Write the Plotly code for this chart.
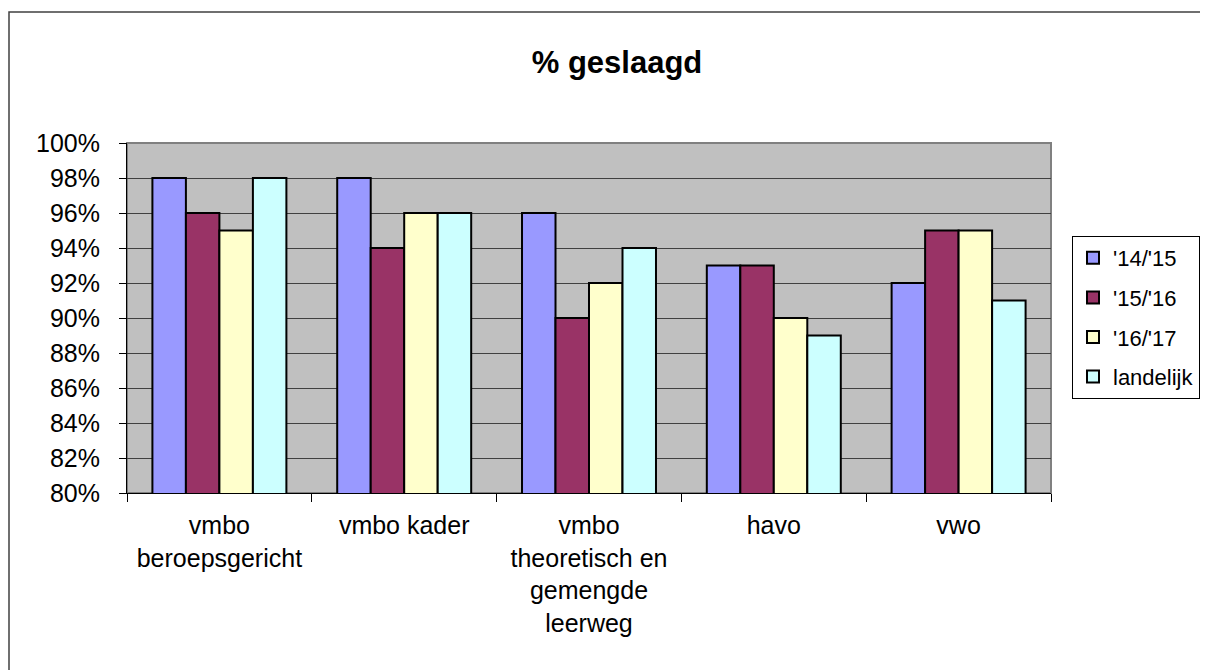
import plotly.graph_objects as go

categories = ["vmbo<br>beroepsgericht", "vmbo kader", "vmbo<br>theoretisch en<br>gemengde<br>leerweg", "havo", "vwo"]
series_names = ["'14/'15", "'15/'16", "'16/'17", "landelijk"]
v_1415 = [0.98, 0.98, 0.96, 0.93, 0.92]
v_1516 = [0.96, 0.94, 0.90, 0.93, 0.95]
v_1617 = [0.95, 0.96, 0.92, 0.90, 0.95]
v_land = [0.98, 0.96, 0.94, 0.89, 0.91]
colors = ["#9999FF", "#993366", "#FFFFCC", "#CCFFFF"]

FONT = "Arial, Liberation Sans, sans-serif"

fig = go.Figure()
for i, (name, vals) in enumerate(zip(series_names, [v_1415, v_1516, v_1617, v_land])):
    fig.add_trace(go.Bar(
        x=categories, y=vals, name=name, legendgroup=name,
        marker=dict(color=colors[i], line=dict(color="black", width=2)),
    ))

# page has an 8px body margin, so figure pixel = page pixel - 8
OFF = 8
W, H = 1200, 662
L, R, T, B = 127 - OFF, 157, 143 - OFF, 177
pw, ph = W - L - R, H - T - B

def px_x(p):
    return (p - OFF - L) / pw

def px_y(p):
    return (H - B - (p - OFF)) / ph

fig.update_layout(
    width=W, height=H,
    margin=dict(l=L, r=R, t=T, b=B, autoexpand=False),
    paper_bgcolor="white",
    plot_bgcolor="#C0C0C0",
    barmode="group",
    bargap=0.275,
    bargroupgap=0,
    font=dict(family=FONT, size=25, color="black"),
    title=dict(text="<b>% geslaagd</b>", x=(617 - OFF) / W, xanchor="center",
               y=1 - (62 - OFF) / H, yanchor="middle", font=dict(size=31, family=FONT)),
    legend=dict(x=px_x(1072), y=px_y(236), xanchor="left", yanchor="top",
                bordercolor="black", borderwidth=1, bgcolor="white",
                font=dict(size=22, family=FONT), tracegroupgap=8,
                traceorder="grouped", itemclick=False),
    xaxis=dict(type="category", tickson="boundaries", ticks="outside", ticklen=8,
               tickcolor="black", showline=True, linecolor="black", linewidth=1,
               showgrid=False, ticklabelstandoff=10, tickfont=dict(size=25)),
    yaxis=dict(range=[0.80, 1.00], dtick=0.02, tickformat=".0%", ticks="outside",
               ticklen=7, tickcolor="black", showline=True, linecolor="black",
               linewidth=1, showgrid=True, gridcolor="#404040", gridwidth=1,
               zeroline=False, ticklabelstandoff=14, tickfont=dict(size=25)),
    shapes=[
        dict(type="rect", xref="paper", yref="paper", x0=0, x1=1, y0=0, y1=1,
             line=dict(color="#808080", width=2), layer="below"),
        dict(type="rect", xref="paper", yref="paper", x0=px_x(9), x1=px_x(1240),
             y0=px_y(700), y1=px_y(12), line=dict(color="#404040", width=1.5)),
    ],
)

fig.write_html("out.html")
